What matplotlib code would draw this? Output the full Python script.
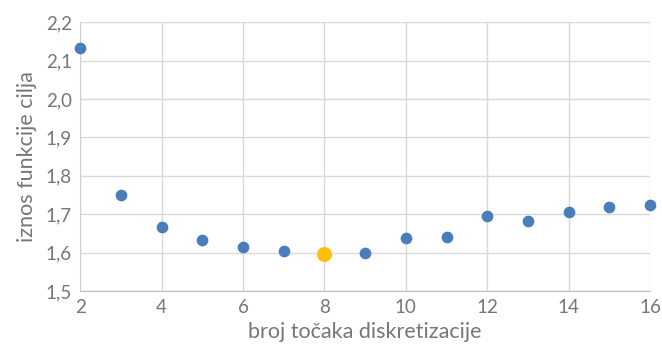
import numpy as np
import matplotlib.pyplot as plt
from matplotlib.ticker import FuncFormatter

# broj točaka diskretizacije vs iznos funkcije cilja
n_points = [2, 3, 4, 5, 6, 7, 8, 9, 10, 11, 12, 13, 14, 15, 16]
values = [2.133, 1.750, 1.666, 1.633, 1.614, 1.603, 1.595, 1.599,
          1.637, 1.641, 1.695, 1.683, 1.706, 1.719, 1.723]
best_idx = 6  # n = 8, highlighted

plt.rcParams['font.family'] = ['Lato', 'DejaVu Sans']
txt = '#767676'

fig = plt.figure(figsize=(6.62, 3.51), dpi=100)
ax = fig.add_axes([0.121, 0.171, 0.861, 0.766])

x = np.array(n_points)
y = np.array(values)
mask = np.arange(len(x)) != best_idx
ax.scatter(x[mask], y[mask], s=55, color='#4a7ebb', zorder=3, clip_on=False)
ax.scatter(x[best_idx], y[best_idx], s=95, color='#ffc000', zorder=4)

ax.set_xlim(2, 16)
ax.set_ylim(1.5, 2.2)
ax.set_xticks(np.arange(2, 17, 2))
ax.set_yticks(np.arange(1.5, 2.21, 0.1))
ax.yaxis.set_major_formatter(FuncFormatter(lambda v, p: f"{v:.1f}".replace('.', ',')))

ax.grid(True, color='#d9d9d9', linewidth=1)
ax.set_axisbelow(True)
for s in ['top', 'right']:
    ax.spines[s].set_visible(False)
ax.spines['bottom'].set_color('#bfbfbf')
ax.spines['left'].set_color('#d0d0d0')
ax.tick_params(length=0, labelsize=13.5, colors=txt, pad=6)

ax.set_xlabel('broj točaka diskretizacije', fontsize=15.5, color=txt, labelpad=4)
ax.set_ylabel('iznos funkcije cilja', fontsize=15.5, color=txt, labelpad=6)

fig.savefig('out.png', dpi=100)
